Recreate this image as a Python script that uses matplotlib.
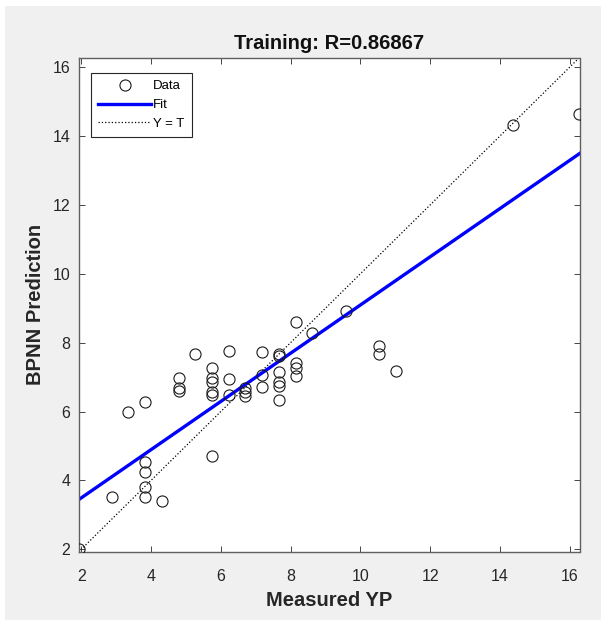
import numpy as np
import matplotlib
matplotlib.use("Agg")
import matplotlib.pyplot as plt
from matplotlib.patches import Rectangle

plt.rcParams['font.family'] = ['Liberation Sans', 'DejaVu Sans']

# measured YP (targets) and network outputs
measured = [1.92, 2.87, 3.35,
            3.83, 3.83, 3.83, 3.83, 3.83,
            4.31,
            4.79, 4.79, 4.79,
            5.27,
            5.75, 5.75, 5.75, 5.75, 5.75, 5.75,
            6.22, 6.22, 6.22,
            6.70, 6.70, 6.70,
            7.18, 7.18, 7.18,
            7.66, 7.66, 7.66, 7.66, 7.66, 7.66,
            8.14, 8.14, 8.14, 8.14,
            8.62, 9.58, 10.53, 10.53, 11.01, 14.36, 16.28]
predicted = [2.00, 3.52, 5.98,
             6.29, 4.54, 4.24, 3.81, 3.52,
             3.41,
             6.97, 6.67, 6.60,
             7.66,
             7.27, 6.96, 6.86, 6.56, 6.47, 4.70,
             7.77, 6.93, 6.47,
             6.68, 6.58, 6.44,
             7.74, 7.07, 6.72,
             7.66, 7.61, 7.15, 6.85, 6.74, 6.34,
             8.60, 7.42, 7.25, 7.04,
             8.28, 8.92, 7.90, 7.66, 7.17, 14.33, 14.65]
r_value = "0.86867"
tick_vals = [2, 4, 6, 8, 10, 12, 14, 16]

x = np.array(measured)
y = np.array(predicted)
lo = min(x.min(), y.min())
hi = max(x.max(), y.max())
slope, icpt = np.polyfit(x, y, 1)

fig = plt.figure(figsize=(6.01, 6.20), dpi=100, facecolor='white')
fig.patches.append(Rectangle((5 / 601, 0), 1, 1 - 6 / 620, transform=fig.transFigure,
                             facecolor='#f0f0f0', edgecolor='none', zorder=-10))
ax = fig.add_axes([78.5 / 601, 68 / 620, 501 / 601, 494.5 / 620])

ln = np.array([lo, hi])
ax.plot(x, y, 'o', ms=8, mfc='none', mec='#1a1a1a', mew=0.8, label='Data', zorder=3)
ax.plot(ln, slope * ln + icpt, color='#0000ff', lw=2.4, label='Fit', zorder=2)
ax.plot(ln, ln, ':', color='black', lw=0.9, label='Y = T', zorder=1)

ax.set_xlim(lo, hi)
ax.set_ylim(lo, hi)
ax.set_xticks(tick_vals)
ax.set_yticks(tick_vals)
ax.tick_params(direction='in', length=4, width=0.6, top=True, right=True,
               labelsize=11.5, colors='#262626')
ax.tick_params(axis='x', pad=12)
ax.tick_params(axis='y', pad=6)
for s in ax.spines.values():
    s.set_color('#606060')
    s.set_linewidth(1.0)

ax.set_title(f"Training: R={r_value}", fontsize=14.5, fontweight='bold', color='#111111', pad=6)
ax.set_xlabel("Measured YP", fontsize=14.5, fontweight='bold', color='#262626', labelpad=5)
ax.set_ylabel("BPNN Prediction", fontsize=14.5, fontweight='bold', color='#262626', labelpad=5)

leg = ax.legend(loc='upper left', bbox_to_anchor=(0.025, 0.969), borderaxespad=0,
                fontsize=9.5, fancybox=False, framealpha=1, edgecolor='#262626',
                handlelength=4.0, handletextpad=0.15, labelspacing=0.5, borderpad=0.55)
leg.get_frame().set_linewidth(0.8)

fig.savefig("out.png", dpi=100, facecolor=fig.get_facecolor())
